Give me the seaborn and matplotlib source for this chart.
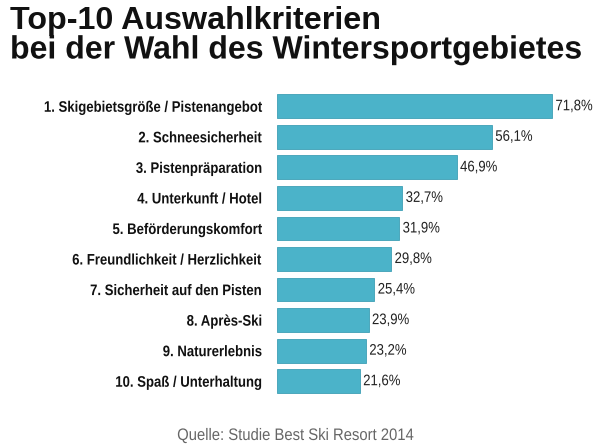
import matplotlib
matplotlib.use("Agg")
import matplotlib.pyplot as plt
from matplotlib.patheffects import AbstractPathEffect
from matplotlib.transforms import Affine2D
import seaborn as sns
import pandas as pd

categories = [
    "1. Skigebietsgröße / Pistenangebot",
    "2. Schneesicherheit",
    "3. Pistenpräparation",
    "4. Unterkunft / Hotel",
    "5. Beförderungskomfort",
    "6. Freundlichkeit / Herzlichkeit",
    "7. Sicherheit auf den Pisten",
    "8. Après-Ski",
    "9. Naturerlebnis",
    "10. Spaß / Unterhaltung",
]
values = [71.8, 56.1, 46.9, 32.7, 31.9, 29.8, 25.4, 23.9, 23.2, 21.6]
value_labels = ["71,8%", "56,1%", "46,9%", "32,7%", "31,9%", "29,8%", "25,4%", "23,9%", "23,2%", "21,6%"]
title_lines = ["Top-10 Auswahlkriterien", "bei der Wahl des Wintersportgebietes"]
source = "Quelle: Studie Best Ski Resort 2014"


class Squeeze(AbstractPathEffect):
    """Horizontally condense a text path around an anchor (left/right/center)."""

    def __init__(self, sx=0.86, anchor="left"):
        super().__init__()
        self.sx = sx
        self.anchor = anchor

    def draw_path(self, renderer, gc, tpath, affine, rgbFace=None):
        p = affine.transform_path(tpath)
        v = p.vertices
        if len(v) == 0:
            return
        if self.anchor == "left":
            a = v[:, 0].min()
        elif self.anchor == "right":
            a = v[:, 0].max()
        else:
            a = 0.5 * (v[:, 0].min() + v[:, 0].max())
        t = Affine2D().translate(-a, 0).scale(self.sx, 1).translate(a, 0)
        renderer.draw_path(gc, p, t, rgbFace)


sns.set_theme(style="white")
plt.rcParams["font.family"] = ["Liberation Sans", "DejaVu Sans"]

df = pd.DataFrame({"cat": categories, "val": values})

fig = plt.figure(figsize=(6.0, 4.47), dpi=100)
ax = fig.add_axes([277 / 600, 1 - 396.5 / 447, 1 - 277 / 600, (396.5 - 91) / 447])
sns.barplot(data=df, x="val", y="cat", color="#4BB3C9", saturation=1, width=0.78,
            edgecolor="#3E9FB5", linewidth=0.6, ax=ax)
ax.set_xlim(0, (600 - 277) / 3.83)
ax.set_ylim(9.5, -0.5)
ax.set_xlabel("")
ax.set_ylabel("")
ax.set_xticks([])
for s in ax.spines.values():
    s.set_visible(False)
ax.tick_params(axis="y", length=0, pad=10.5)
for lab in ax.get_yticklabels():
    lab.set_fontweight("bold")
    lab.set_fontsize(11)
    lab.set_color("#111111")
    lab.set_path_effects([Squeeze(0.86, "right")])
for i, (v, t) in enumerate(zip(values, value_labels)):
    ax.text(v + 0.9, i, t, va="center", ha="left", fontsize=11, color="#222222",
            path_effects=[Squeeze(0.86, "left")])

fig.text(10 / 600, 1 - 28.5 / 447, title_lines[0], fontsize=23.2, fontweight="bold",
         color="#111111", va="baseline")
fig.text(10 / 600, 1 - 58.5 / 447, title_lines[1], fontsize=23.2, fontweight="bold",
         color="#111111", va="baseline", path_effects=[Squeeze(0.995, "left")])
fig.text(295.5 / 600, 1 - 440 / 447, source, fontsize=12, color="#666666", ha="center",
         va="baseline", path_effects=[Squeeze(0.89, "center")])

fig.savefig("out.png", dpi=100)
